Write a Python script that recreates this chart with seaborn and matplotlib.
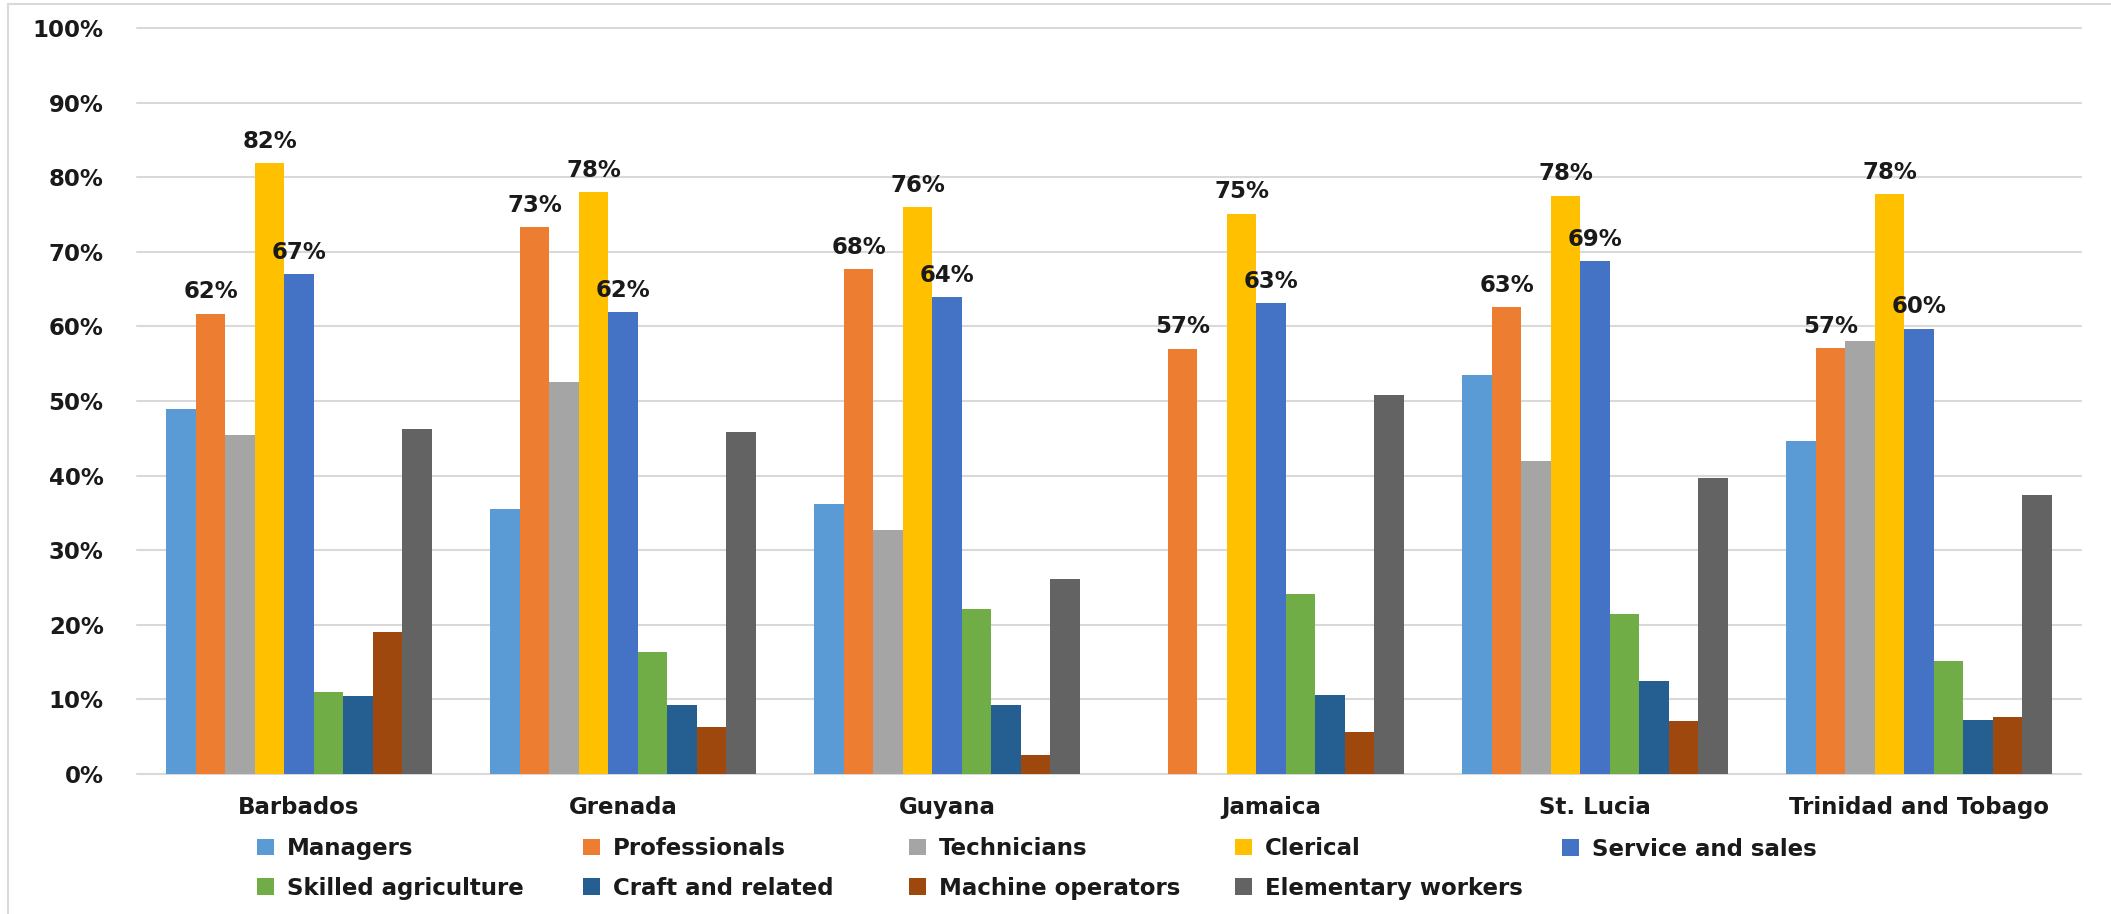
import numpy as np
import pandas as pd
import matplotlib.pyplot as plt
import seaborn as sns
from matplotlib.patches import Patch
from matplotlib.lines import Line2D
from matplotlib.ticker import PercentFormatter

# ── Data (share of women by occupation group) ───────────────────────────────
countries = ["Barbados", "Grenada", "Guyana", "Jamaica", "St. Lucia", "Trinidad and Tobago"]
occupations = ["Managers", "Professionals", "Technicians", "Clerical", "Service and sales",
               "Skilled agriculture", "Craft and related", "Machine operators", "Elementary workers"]

managers      = [0.489, 0.355, 0.362, np.nan, 0.535, 0.447]
professionals = [0.617, 0.733, 0.677, 0.570, 0.626, 0.571]
technicians   = [0.454, 0.525, 0.327, np.nan, 0.420, 0.580]
clerical      = [0.819, 0.780, 0.760, 0.751, 0.775, 0.777]
service_sales = [0.670, 0.619, 0.639, 0.631, 0.687, 0.597]
skilled_agri  = [0.110, 0.163, 0.221, 0.241, 0.215, 0.152]
craft         = [0.105, 0.093, 0.093, 0.106, 0.124, 0.073]
machine_ops   = [0.190, 0.063, 0.025, 0.056, 0.071, 0.077]
elementary    = [0.462, 0.459, 0.262, 0.508, 0.397, 0.374]

labelled = ["Professionals", "Clerical", "Service and sales"]

palette = ["#5B9BD5", "#ED7D31", "#A5A5A5", "#FFC000", "#4472C4",
           "#70AD47", "#255E91", "#9E480E", "#636363"]

# ── Long table for seaborn ──────────────────────────────────────────────────
series = [managers, professionals, technicians, clerical, service_sales,
          skilled_agri, craft, machine_ops, elementary]
rows = []
for occ, vals in zip(occupations, series):
    for c, v in zip(countries, vals):
        rows.append({"country": c, "occupation": occ, "share": v})
df = pd.DataFrame(rows).dropna()

# ── Figure ──────────────────────────────────────────────────────────────────
W, H = 2111, 914
sns.set_style("white")
plt.rcParams["font.family"] = ["DejaVu Sans"]
plt.rcParams["font.weight"] = "bold"
FS = 16.5
TXT = "#1a1a1a"
GRID = "#d9d9d9"

fig = plt.figure(figsize=(W / 100, H / 100), dpi=100)
ax = fig.add_axes([137 / W, (H - 774) / H, (2081 - 137) / W, (774 - 28) / H])

sns.barplot(data=df, x="country", y="share", hue="occupation",
            order=countries, hue_order=occupations, palette=palette,
            width=0.818, linewidth=0, saturation=1, legend=False, ax=ax)

ax.set_xlim(-0.5, len(countries) - 0.5)
ax.set_ylim(0, 1)
ax.set_yticks(np.arange(0, 1.01, 0.1))
ax.yaxis.set_major_formatter(PercentFormatter(1.0, decimals=0))
ax.set_xlabel("")
ax.set_ylabel("")
ax.yaxis.grid(True, color=GRID, linewidth=1.5)
ax.set_axisbelow(True)
for gl in ax.get_ygridlines():
    gl.set_clip_on(False)
sns.despine(ax=ax, left=True, bottom=True)
ax.tick_params(axis="y", length=0, pad=24, labelsize=FS, labelcolor=TXT)
ax.tick_params(axis="x", length=0, pad=16, labelsize=FS, labelcolor=TXT)
for lab in ax.get_xticklabels() + ax.get_yticklabels():
    lab.set_fontweight("bold")

# data labels only for three groups
for occ in labelled:
    cont = ax.containers[occupations.index(occ)]
    ax.bar_label(cont, fmt="{:.0%}", padding=7.5, fontsize=FS,
                 fontweight="bold", color=TXT)

# ── Legend: five equal-width columns, two rows ──────────────────────────────
col_x = [257, 583, 909, 1235, 1562]
row_y = [849, 888]
for k, x in enumerate(col_x):
    names = [occupations[k]] + ([occupations[k + 5]] if k + 5 < len(occupations) else [])
    handles = [Patch(facecolor=palette[occupations.index(n)], edgecolor="none", label=n)
               for n in names]
    yc = np.mean(row_y[:len(names)])
    fig.legend(handles=handles, loc="center left",
               bbox_to_anchor=(x / W, 1 - yc / H), frameon=False,
               borderpad=0, borderaxespad=0, handlelength=0.75, handleheight=0.7,
               handletextpad=0.55, labelspacing=0.7,
               prop={"size": FS, "weight": "bold"}, labelcolor=TXT)

# outer chart border (top and left visible)
fig.add_artist(Line2D([8 / W, 1], [1 - 4 / H, 1 - 4 / H], transform=fig.transFigure,
                      color=GRID, linewidth=1.5))
fig.add_artist(Line2D([8 / W, 8 / W], [0, 1 - 4 / H], transform=fig.transFigure,
                      color=GRID, linewidth=1.5))

fig.savefig("out.png", dpi=100)
